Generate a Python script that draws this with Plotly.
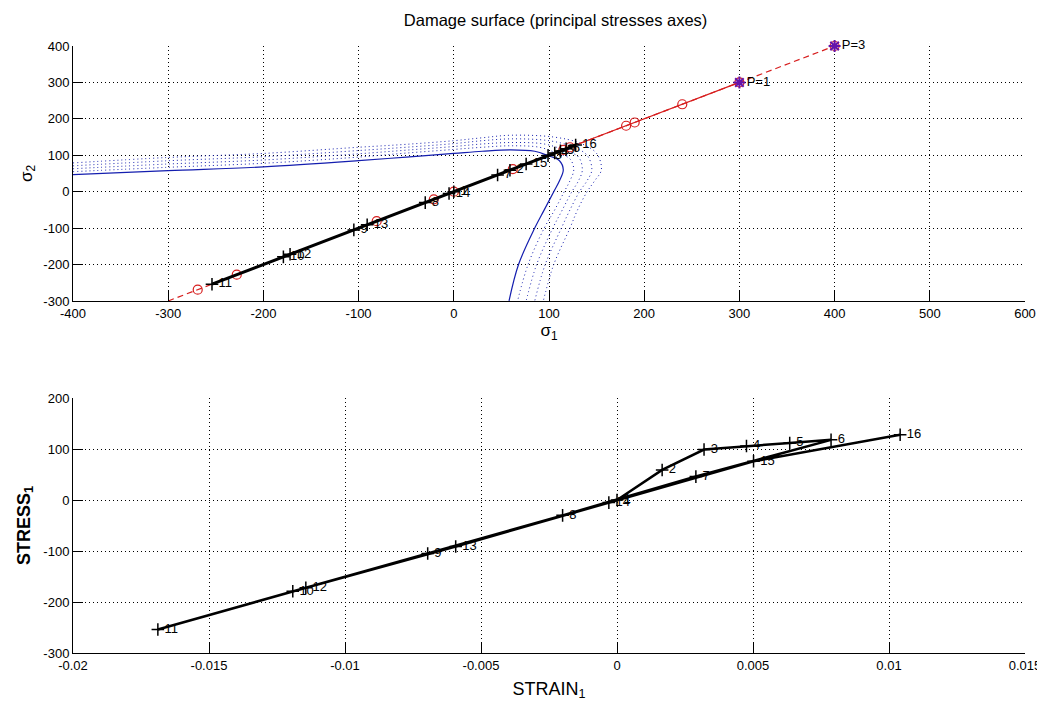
import plotly.graph_objects as go

# ---------- data ----------
# load history, points 1..16 (strain_1, stress_1); the stress path is equibiaxial (sigma1 = sigma2 = stress_1)
point_labels = ['1', '2', '3', '4', '5', '6', '7', '8', '9', '10', '11', '12', '13', '14', '15', '16']
strain_1 = [0.0, 0.00166, 0.0032, 0.00476, 0.00635, 0.00787, 0.0029, -0.002, -0.00696, -0.01192,
            -0.01688, -0.01144, -0.00593, -0.0003, 0.00502, 0.01041]
stress_1 = [0, 59, 99, 106, 112, 118, 46, -30, -105, -179, -254, -172, -91, -5, 76, 128]

# imposed path (red): circles on sigma1 = sigma2
red_circles = [-269, -228, -81, -21, 0, 62, 115, 122, 181, 190, 240, 300, 400]
red_dashed_ends = [-300, 400]
red_solid_ends = [128, 300]
p_points = [300, 400]
p_labels = ['P=1', 'P=3']

# damage surface (solid) and the dotted family of surfaces outside it
surf_s1 = [-400, -300, -200, -100, -50, 0, 30, 60, 85, 99, 111, 115, 111, 105, 95, 85, 68, 58]
surf_s2 = [47, 58, 68, 85, 95, 105, 111, 115, 111, 99, 85, 60, 30, 0, -50, -100, -200, -300]

dot1_s1 = [-400, -300, -200, -100, -50, 0, 30, 60, 90, 107, 122, 126, 122, 116, 106, 95, 78, 67]
dot1_s2 = [55, 67, 78, 95, 106, 116, 122, 126, 122, 107, 90, 60, 30, 0, -50, -100, -200, -300]
dot2_s1 = [-400, -300, -200, -100, -50, 0, 30, 60, 95, 115, 131, 135, 131, 124, 114, 104, 87, 76]
dot2_s2 = [63, 76, 87, 104, 114, 124, 131, 135, 131, 115, 95, 60, 30, 0, -50, -100, -200, -300]
dot3_s1 = [-400, -300, -200, -100, -50, 0, 30, 60, 100, 124, 140, 145, 140, 132, 122, 113, 96, 85]
dot3_s2 = [71, 85, 96, 113, 122, 132, 140, 145, 140, 124, 100, 60, 30, 0, -50, -100, -200, -300]
dot4_s1 = [-400, -300, -200, -100, -50, 0, 30, 60, 105, 133, 150, 155, 148, 140, 130, 122, 105, 94]
dot4_s2 = [79, 94, 105, 122, 130, 140, 148, 155, 150, 133, 105, 60, 30, 0, -50, -100, -200, -300]

# ticks
top_x_ticks = [-400, -300, -200, -100, 0, 100, 200, 300, 400, 500, 600]
top_x_text = ['-400', '-300', '-200', '-100', '0', '100', '200', '300', '400', '500', '600']
top_y_ticks = [-300, -200, -100, 0, 100, 200, 300, 400]
top_y_text = ['-300', '-200', '-100', '0', '100', '200', '300', '400']
bot_x_ticks = [-0.02, -0.015, -0.01, -0.005, 0, 0.005, 0.01, 0.015]
bot_x_text = ['-0.02', '-0.015', '-0.01', '-0.005', '0', '0.005', '0.01', '0.015']
bot_y_ticks = [-300, -200, -100, 0, 100, 200]
bot_y_text = ['-300', '-200', '-100', '0', '100', '200']

# ---------- styles ----------
FONT = 'Liberation Sans Narrow, Liberation Sans, Arial, sans-serif'
BLUE = 'rgb(20,30,175)'
RED = 'rgb(215,30,30)'
TXT = dict(family=FONT, size=13, color='black')

fig = go.Figure()

# damage surfaces (top)
for xs, ys in [(dot1_s1, dot1_s2), (dot2_s1, dot2_s2), (dot3_s1, dot3_s2), (dot4_s1, dot4_s2)]:
    fig.add_trace(go.Scatter(x=xs, y=ys, mode='lines', line=dict(color=BLUE, width=1, dash='1px,3px', shape='spline'),
                             xaxis='x', yaxis='y', hoverinfo='skip'))
fig.add_trace(go.Scatter(x=surf_s1, y=surf_s2, mode='lines', line=dict(color=BLUE, width=1.2, shape='spline'),
                         xaxis='x', yaxis='y'))

# imposed path (red)
fig.add_trace(go.Scatter(x=red_dashed_ends, y=red_dashed_ends, mode='lines',
                         line=dict(color=RED, width=1.2, dash='6px,4px'), xaxis='x', yaxis='y'))
fig.add_trace(go.Scatter(x=red_solid_ends, y=red_solid_ends, mode='lines',
                         line=dict(color=RED, width=1.2), xaxis='x', yaxis='y'))
fig.add_trace(go.Scatter(x=red_circles, y=red_circles, mode='markers', cliponaxis=False,
                         marker=dict(symbol='circle-open', size=9, color=RED, line=dict(width=1.2)),
                         xaxis='x', yaxis='y'))

# computed path (black)
fig.add_trace(go.Scatter(x=stress_1, y=stress_1, mode='lines+markers+text', text=point_labels,
                         textposition='middle right', textfont=TXT, cliponaxis=False,
                         line=dict(color='black', width=3),
                         marker=dict(symbol='cross-thin-open', size=9, color='black', line=dict(width=1.5, color='black')),
                         xaxis='x', yaxis='y'))

fig.add_trace(go.Scatter(x=p_points, y=p_points, mode='markers+text', text=p_labels,
                         textposition='middle right', textfont=TXT, cliponaxis=False,
                         marker=dict(symbol='asterisk-open', size=10, color='rgb(100,20,170)',
                                     line=dict(width=2, color='rgb(100,20,170)')),
                         xaxis='x', yaxis='y'))

# stress-strain (bottom)
fig.add_trace(go.Scatter(x=strain_1, y=stress_1, mode='lines+markers+text', text=point_labels,
                         textposition='middle right', textfont=TXT, cliponaxis=False,
                         line=dict(color='black', width=2.5),
                         marker=dict(symbol='cross-thin-open', size=9, color='black', line=dict(width=1.5, color='black')),
                         xaxis='x2', yaxis='y2'))

axis_common = dict(showline=True, linecolor='black', linewidth=1, mirror=False,
                   ticks='inside', ticklen=10, tickcolor='black', tickwidth=1,
                   showgrid=True, gridcolor='black', gridwidth=1, griddash='1px,3px',
                   zeroline=False, tickfont=dict(family=FONT, size=13, color='black'))

fig.update_layout(
    width=1045, height=704,
    paper_bgcolor='white', plot_bgcolor='white',
    margin=dict(l=65, r=15, t=38, b=59),
    showlegend=False,
    title=dict(text='Damage surface (principal stresses axes)', x=0.524, xanchor='center',
               y=0.983, yanchor='middle', font=dict(family=FONT, size=16.5, color='black')),
    xaxis=dict(axis_common, range=[-400, 600], tickvals=top_x_ticks, ticktext=top_x_text,
               domain=[0, 1], anchor='y',
               title=dict(text='σ<sub>1</sub>', standoff=4,
                          font=dict(family='Liberation Sans', size=17, color='black'))),
    yaxis=dict(axis_common, range=[-300, 400], tickvals=top_y_ticks, ticktext=top_y_text,
               domain=[0.58, 1], anchor='x',
               title=dict(text='σ<sub>2</sub>', standoff=6,
                          font=dict(family='Liberation Sans', size=17, color='black'))),
    xaxis2=dict(axis_common, range=[-0.02, 0.015], tickvals=bot_x_ticks, ticktext=bot_x_text,
                domain=[0, 1], anchor='y2',
                title=dict(text='STRAIN<sub>1</sub>', standoff=10,
                           font=dict(family='Liberation Sans', size=18, color='black'))),
    yaxis2=dict(axis_common, range=[-300, 200], tickvals=bot_y_ticks, ticktext=bot_y_text,
                domain=[0, 0.42], anchor='x2',
                title=dict(text='<b>STRESS<sub>1</sub></b>', standoff=8,
                           font=dict(family='Liberation Sans', size=18, color='black'))),
)

fig.write_html("out.html")
